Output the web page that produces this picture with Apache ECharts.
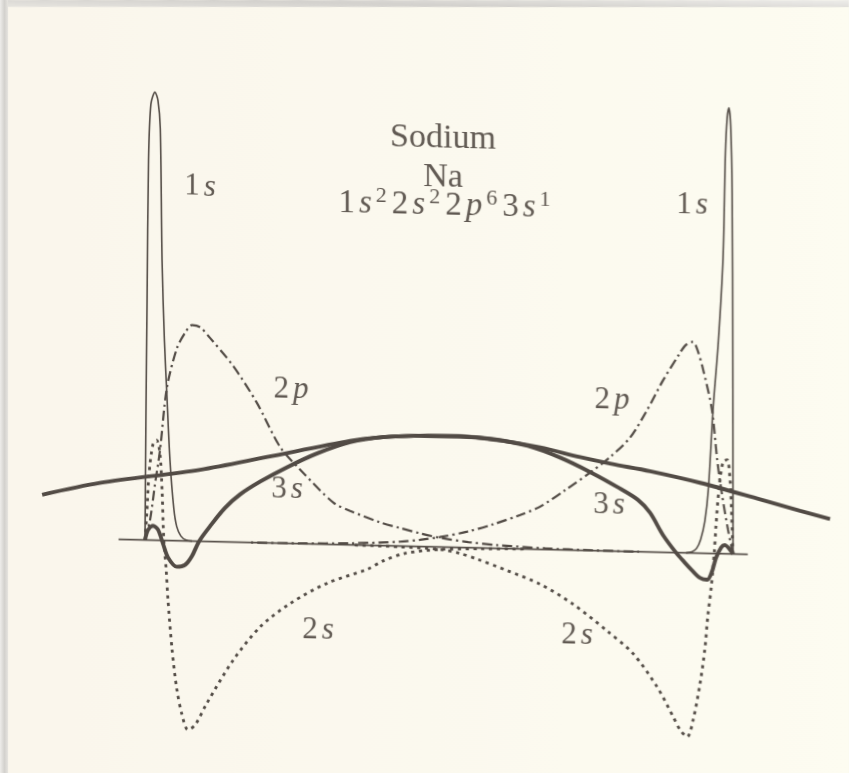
<!DOCTYPE html>
<html>
<head>
<meta charset="utf-8">
<script src="https://cdn.jsdelivr.net/npm/echarts@6.0.0/dist/echarts.min.js"></script>
<style>
  html, body { margin: 0; padding: 0; background: #fbf8ee; overflow: hidden; }
  body { width: 849px; height: 773px; position: relative; }
  /* the printed figure droops slightly towards the right on the page */
  #chart {
    position: absolute; left: 0; top: -15px;
    width: 849px; height: 803px;
    transform-origin: 50% 50%;
    transform: skewY(1.364deg);
  }
</style>
</head>
<body>
<div id="chart"></div>
<script>
// Radial functions r·R(r) for the occupied orbitals of two neighbouring Na atoms.
// r is measured from the left nucleus; the right nucleus sits at r = 10.
// Each orbital is given as [r, value] pairs.

const axisRange = { rMin: -1.8, rMax: 11.7, vMin: -5.3, vMax: 12.2 };

const baseline = [[-0.45, 0], [10.25, 0]];

const s1Left = [[0,0],[0.015,3],[0.035,6],[0.06,9.5],[0.1,10.9],[0.17,11.2],[0.22,11.0],[0.26,10.3],
  [0.29,7.0],[0.33,5.0],[0.37,3.7],[0.425,2.0],[0.49,0.8],[0.54,0.35],[0.61,0.12],[0.7,0.02],[0.8,0]];
const s1Right = [[10,0],[9.995,5],[9.985,9],[9.96,10.7],[9.93,11.15],[9.9,10.9],[9.87,10.0],[9.83,7.4],
  [9.75,5.3],[9.66,3.6],[9.58,1.6],[9.52,0.8],[9.45,0.35],[9.38,0.12],[9.3,0.03],[9.2,0]];

const s2Left = [[0,0],[0.034,0.75],[0.068,1.65],[0.136,2.4],[0.2,2.5],[0.255,2.15],[0.29,1.25],[0.32,0],
  [0.36,-0.73],[0.39,-1.47],[0.46,-2.72],[0.54,-3.7],[0.63,-4.35],[0.73,-4.72],[0.85,-4.6],[1.05,-4.05],
  [1.5,-2.95],[1.96,-2.1],[2.47,-1.5],[3.1,-0.97],[3.78,-0.6],[4.05,-0.38],[4.42,-0.18],[5.02,-0.06],
  [5.7,-0.02],[6.5,0]];
const s2Right = [[10,0],[9.98,0.85],[9.95,1.85],[9.9,2.35],[9.83,2.3],[9.76,1.6],[9.71,0.7],[9.68,0],
  [9.63,-0.83],[9.57,-1.58],[9.52,-2.4],[9.44,-3.25],[9.32,-4.18],[9.22,-4.6],[9.1,-4.43],[8.98,-4.1],
  [8.71,-3.37],[8.3,-2.55],[7.86,-2.0],[7.28,-1.35],[6.72,-0.87],[6.16,-0.55],[5.65,-0.28],[5.36,-0.15],
  [5.02,-0.06],[4.34,-0.02],[3.49,0]];

const p2Left = [[0,0],[0.085,0.5],[0.17,1.4],[0.255,2.25],[0.37,3.8],[0.54,4.8],[0.68,5.2],[0.8,5.4],
  [0.94,5.35],[1.1,5.1],[1.5,4.4],[1.9,3.5],[2.3,2.4],[2.64,1.85],[3.2,1.05],[3.49,0.85],[4.0,0.58],
  [4.34,0.45],[4.68,0.33],[5.02,0.23],[5.5,0.14],[6.0,0.08],[6.8,0.03],[7.6,0.01],[8.4,0]];
const p2Right = [[10,0],[9.915,0.6],[9.81,1.5],[9.73,2.35],[9.64,3.6],[9.49,4.6],[9.39,5.1],[9.32,5.28],
  [9.2,5.2],[9.1,5.0],[8.81,4.3],[8.54,3.55],[8.25,2.85],[7.91,2.35],[7.57,1.95],[7.15,1.5],[6.72,1.07],
  [6.38,0.85],[5.92,0.6],[5.48,0.4],[5.02,0.25],[4.68,0.17],[4.34,0.11],[3.49,0.04],[2.64,0.01],[1.8,0]];

const s3Left = [[0,0],[0.05,0.25],[0.136,0.36],[0.22,0.27],[0.31,-0.1],[0.39,-0.42],[0.54,-0.65],
  [0.68,-0.6],[0.8,-0.37],[0.92,0],[1.1,0.37],[1.36,0.85],[1.62,1.2],[1.96,1.53],[2.41,1.9],[2.93,2.27],
  [3.49,2.57],[4.08,2.72],[4.68,2.77],[5.36,2.78],[6.04,2.7],[6.72,2.55],[7.4,2.33],[7.93,2.18],
  [8.59,2.02],[9.44,1.76],[10.46,1.38],[11.14,1.12],[11.65,0.93]];
const s3Right = [[10,0],[9.93,0.14],[9.86,0.22],[9.8,0.16],[9.71,-0.11],[9.64,-0.46],[9.56,-0.66],
  [9.44,-0.62],[9.3,-0.43],[9.17,-0.23],[9.03,0],[8.81,0.43],[8.59,0.98],[8.38,1.3],[8.04,1.6],
  [7.59,1.95],[7.07,2.3],[6.51,2.58],[5.92,2.73],[5.32,2.78],[4.64,2.77],[3.96,2.7],[3.49,2.6],
  [2.08,2.15],[0.94,1.79],[-0.77,1.4],[-1.75,1.07]];

const titleLines = ['Sodium', 'Na'];
const ink = '#524b45';
const textInk = '#605952';
const serif = '"Liberation Serif", "DejaVu Serif", serif';

// page geometry: the canvas is sheared by SKEW about the window centre
const PAGE_W = 849, PAGE_H = 773, CANVAS_W = 849, CANVAS_H = 803;
const SKEW = Math.tan(1.364 * Math.PI / 180);
function toCanvas(px, py) {
  return [px, CANVAS_H / 2 + (py - PAGE_H / 2) - (px - PAGE_W / 2) * SKEW];
}

function curve(name, data, lineStyle, z) {
  return {
    type: 'line', name: name, data: data, symbol: 'none', smooth: 0.3,
    silent: true, animation: false, z: z,
    lineStyle: Object.assign({ color: ink }, lineStyle)
  };
}

const thin = { width: 1.6 };
const dotted = { width: 2.8, type: [3.2, 4.6] };
const dashDot = { width: 2.2, type: [10, 4, 2.2, 4] };
const thick = { width: 3.9 };

function textAt(px, py, style) {
  const p = toCanvas(px, py);
  return { type: 'text', x: p[0], y: p[1], z: 20, silent: true,
    style: Object.assign({ align: 'center', verticalAlign: 'middle', fill: textInk }, style) };
}

// orbital label: upright digit followed by italic letter
function orbitalLabel(digit, letter, px, py) {
  return textAt(px, py, {
    text: '{n|' + digit + '}{i|' + letter + '}',
    rich: {
      n: { fontFamily: serif, fontSize: 31, fill: textInk, lineHeight: 34 },
      i: { fontFamily: serif, fontSize: 31, fontStyle: 'italic', fill: textInk, lineHeight: 34, padding: [0, 0, 0, 4] }
    }
  });
}

function edgeStrip(x0, y0, x1, y1, vertical) {
  const pts = [toCanvas(x0, y0), toCanvas(x1, y0), toCanvas(x1, y1), toCanvas(x0, y1)];
  return { type: 'polygon', shape: { points: pts }, z: 30, silent: true,
    style: { fill: { type: 'linear', x: 0, y: 0, x2: vertical ? 1 : 0, y2: vertical ? 0 : 1,
      colorStops: [{ offset: 0, color: '#eeedea' }, { offset: 0.55, color: '#d3d1cd' }, { offset: 1, color: '#e7e5e0' }] } } };
}

const configRich = {
  n: { fontFamily: serif, fontSize: 33, fill: textInk, lineHeight: 38, padding: [0, 2, 0, 2] },
  i: { fontFamily: serif, fontSize: 33, fontStyle: 'italic', fill: textInk, lineHeight: 38, padding: [0, 2, 0, 2] },
  u: { fontFamily: serif, fontSize: 22, fill: textInk, lineHeight: 24, verticalAlign: 'top', padding: [0, 3, 0, 2] }
};

const chart = echarts.init(document.getElementById('chart'), null, { renderer: 'canvas' });

// nuclei sit at canvas y = 561.65 (value 0); 58.8 px per r unit, 40 px per value unit
chart.setOption({
  backgroundColor: {
    type: 'linear', x: 0, y: 0, x2: 1, y2: 0,
    colorStops: [{ offset: 0, color: '#faf6ec' }, { offset: 1, color: '#fdfcf1' }]
  },
  grid: { left: 39.16, right: 16.04, top: 73.65, bottom: 29.35, containLabel: false },
  xAxis: { type: 'value', min: axisRange.rMin, max: axisRange.rMax, show: false },
  yAxis: { type: 'value', min: axisRange.vMin, max: axisRange.vMax, show: false },
  series: [
    curve('baseline', baseline, { width: 1.7, color: '#5a534d' }, 2),
    curve('1s left', s1Left, thin, 3),
    curve('1s right', s1Right, thin, 3),
    curve('2s left', s2Left, dotted, 4),
    curve('2s right', s2Right, dotted, 4),
    curve('2p left', p2Left, dashDot, 5),
    curve('2p right', p2Right, dashDot, 5),
    curve('3s left', s3Left, thick, 6),
    curve('3s right', s3Right, thick, 6)
  ],
  graphic: [
    edgeStrip(0, 0, PAGE_W, 7, false),
    edgeStrip(0, 0, 8, PAGE_H, true),
    textAt(443, 139, { text: titleLines[0], fontFamily: serif, fontSize: 34 }),
    textAt(443, 178, { text: titleLines[1], fontFamily: serif, fontSize: 34 }),
    textAt(445, 206, { text: '{n|1}{i|s}{u|2}{n|2}{i|s}{u|2}{n|2}{i|p}{u|6}{n|3}{i|s}{u|1}', rich: configRich }),
    orbitalLabel('1', 's', 200, 187),
    orbitalLabel('1', 's', 692, 205),
    orbitalLabel('2', 'p', 291, 390),
    orbitalLabel('2', 'p', 612, 400),
    orbitalLabel('3', 's', 287, 490),
    orbitalLabel('3', 's', 609, 505),
    orbitalLabel('2', 's', 318, 630),
    orbitalLabel('2', 's', 577, 635)
  ]
});
</script>
</body>
</html>
